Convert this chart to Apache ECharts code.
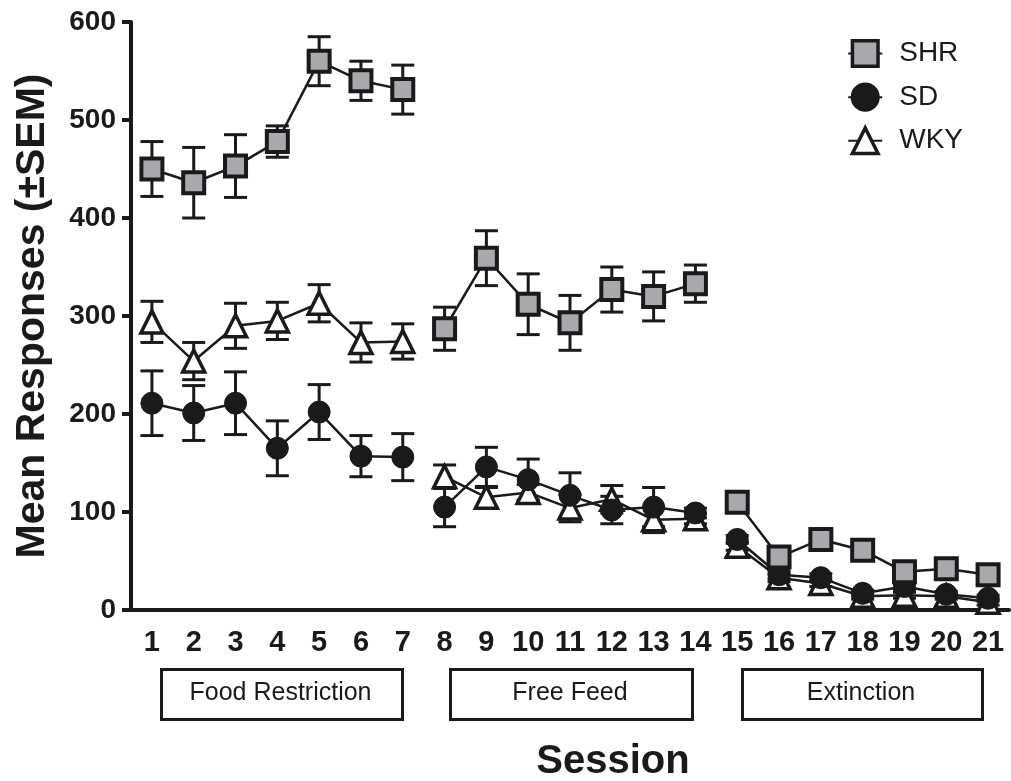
<!DOCTYPE html>
<html>
<head>
<meta charset="utf-8">
<script src="https://cdn.jsdelivr.net/npm/echarts@6/dist/echarts.min.js"></script>
<style>
  html, body { margin: 0; padding: 0; background: #fff; }
  #chart { width: 1011px; height: 781px; }
</style>
</head>
<body>
<div id="chart"></div>
<script>
// sessions and phases
const sessions = ['1','2','3','4','5','6','7','8','9','10','11','12','13','14','15','16','17','18','19','20','21'];
const phaseNames = ['Food Restriction', 'Free Feed', 'Extinction'];
const phaseRanges = [[0, 6], [7, 13], [14, 20]];

// group means and SEM
const shrMean = [450, 436, 453, 478, 560, 540, 531, 287, 359, 312, 293, 327, 320, 333, 110, 54, 72, 61, 39, 42, 36];
const shrSem  = [28, 36, 32, 16, 25, 20, 25, 22, 28, 31, 28, 23, 25, 19, 4, 4, 4, 4, 4, 4, 4];
const sdMean  = [211, 201, 211, 165, 202, 157, 156, 105, 146, 133, 117, 102, 105, 99, 72, 36, 33, 17, 24, 16, 12];
const sdSem   = [33, 28, 32, 28, 28, 21, 24, 20, 20, 21, 23, 14, 20, 5, 4, 4, 4, 3, 3, 3, 3];
const wkyMean = [294, 254, 290, 295, 313, 273, 274, 136, 115, 120, 104, 113, 92, 93, 65, 33, 27, 14, 15, 14, 8];
const wkySem  = [21, 19, 23, 19, 19, 20, 18, 12, 10, 8, 14, 14, 13, 5, 4, 4, 3, 3, 3, 3, 3];

const ink = '#1a1a1a';
const font = '"Liberation Sans", Arial, sans-serif';
const groups = [
    { name: 'SHR', mean: shrMean, sem: shrSem, symbol: 'rect', size: 21, fill: '#a7a9ac', border: 4, z: 6 },
    { name: 'SD', mean: sdMean, sem: sdSem, symbol: 'circle', size: 22, fill: ink, border: 1, z: 5 },
    { name: 'WKY', mean: wkyMean, sem: wkySem, symbol: 'triangle', size: 22, fill: '#ffffff', border: 3.5, z: 4 },
];

function errorBars(params, api) {
    const x = api.value(0);
    const m = api.value(1);
    const s = api.value(2);
    const top = api.coord([x, m + s]);
    const bot = api.coord([x, m - s]);
    const w = 11.5;
    const st = { stroke: ink, lineWidth: 3 };
    return {
        type: 'group',
        children: [
            { type: 'line', shape: { x1: top[0], y1: top[1], x2: bot[0], y2: bot[1] }, style: st },
            { type: 'line', shape: { x1: top[0] - w, y1: top[1], x2: top[0] + w, y2: top[1] }, style: st },
            { type: 'line', shape: { x1: bot[0] - w, y1: bot[1], x2: bot[0] + w, y2: bot[1] }, style: st },
        ]
    };
}

// line series first so the legend takes its icons from them
const series = [];
groups.forEach(g => {
    phaseRanges.forEach(r => {
        series.push({
            name: g.name,
            type: 'line',
            data: g.mean.map((v, i) => (i >= r[0] && i <= r[1]) ? v : '-'),
            symbol: g.symbol,
            symbolSize: g.size,
            showAllSymbol: true,
            lineStyle: { color: ink, width: 2.5 },
            itemStyle: { color: g.fill, borderColor: ink, borderWidth: g.border },
            z: g.z,
        });
    });
});
groups.forEach(g => {
    series.push({
        name: g.name,
        type: 'custom',
        renderItem: errorBars,
        data: g.mean.map((v, i) => [i, v, g.sem[i]]),
        encode: { x: 0, y: 1 },
        z: g.z - 3,
        silent: true,
    });
});

const chart = echarts.init(document.getElementById('chart'));

// phase boxes under the axis
const boxes = [[160, 241], [449, 242], [741, 240]];
const graphic = [];
phaseNames.forEach((p, i) => {
    graphic.push({
        type: 'rect',
        left: boxes[i][0], top: 668,
        shape: { width: boxes[i][1], height: 50 },
        style: { fill: '#fff', stroke: ink, lineWidth: 3 },
    });
    graphic.push({
        type: 'text',
        x: boxes[i][0] + boxes[i][1] / 2, y: 693,
        style: { text: p, fill: ink, font: '25px ' + font, align: 'center', verticalAlign: 'middle' },
    });
});

chart.setOption({
    animation: false,
    backgroundColor: '#fff',
    textStyle: { fontFamily: font },
    grid: { left: 131, right: 2, top: 22, bottom: 171, containLabel: false, outerBoundsMode: 'none' },
    legend: {
        data: ['SHR', 'SD', 'WKY'],
        orient: 'vertical',
        right: 43, top: 34,
        itemWidth: 34, itemHeight: 32, itemGap: 14.5,
        itemStyle: { borderWidth: 3.5, borderColor: ink },
        textStyle: { fontSize: 28, color: ink, fontFamily: font, padding: [0, 0, 0, 12] },
    },
    xAxis: {
        type: 'category',
        data: sessions,
        boundaryGap: true,
        name: 'Session',
        nameLocation: 'middle',
        nameGap: 132,
        nameTextStyle: { fontSize: 40, fontWeight: 'bold', color: ink, padding: [0, 0, 0, 86] },
        axisLine: { lineStyle: { color: ink, width: 4 } },
        axisTick: { alignWithLabel: true, length: 8, lineStyle: { color: ink, width: 4 } },
        axisLabel: { fontSize: 29, fontWeight: 'bold', color: ink, margin: 18, interval: 0 },
        splitLine: { show: false },
    },
    yAxis: {
        type: 'value',
        min: 0, max: 600, interval: 100,
        name: 'Mean Responses (±SEM)',
        nameLocation: 'middle',
        nameGap: 78,
        nameRotate: 90,
        nameTextStyle: { fontSize: 41, fontWeight: 'bold', color: ink },
        axisLine: { show: true, lineStyle: { color: ink, width: 4 } },
        axisTick: { show: true, length: 9, lineStyle: { color: ink, width: 4 } },
        axisLabel: { fontSize: 28, fontWeight: 'bold', color: ink, margin: 15 },
        splitLine: { show: false },
    },
    graphic: graphic,
    series: series,
});
</script>
</body>
</html>
